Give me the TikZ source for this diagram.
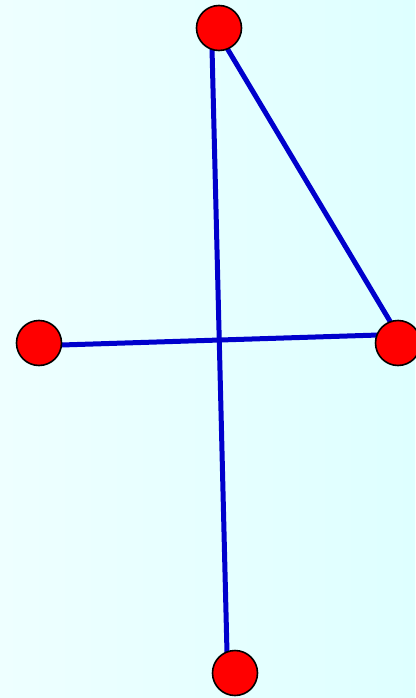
\documentclass[tikz,border=0pt]{standalone}
\usetikzlibrary{backgrounds}

\definecolor{edgeblue}{RGB}{0,0,204}
\definecolor{bgleft}{RGB}{238,255,255}
\definecolor{bgright}{RGB}{222,255,255}

\begin{document}
\begin{tikzpicture}[
    x=1pt, y=-1pt,
    vertex/.style={circle, draw=black, line width=1.6pt, fill=red, minimum size=45pt, inner sep=0pt},
    edge/.style={edgeblue, line width=5pt},
]
    \useasboundingbox (0,0) rectangle (415,698);

%% VERTICES
    \node[vertex] (vtop)    at (219,28)  {};
    \node[vertex] (vleft)   at (39,343)  {};
    \node[vertex] (vright)  at (398,343) {};
    \node[vertex] (vbottom) at (235,673) {};

%% EDGES
    \begin{scope}[on background layer]
        \shade[left color=bgleft, right color=bgright] (0,0) rectangle (415,698);

        \draw[edge] ([xshift=-7.5]vtop.center) -- ([xshift=-7.5]vbottom.center);
        \draw[edge] ([xshift=-4]vtop.center) -- ([xshift=5]vright.center);
        \draw[edge] ([yshift=-2.7]vleft.center) -- ([yshift=8.6]vright.center);
    \end{scope}

\end{tikzpicture}
\end{document}
